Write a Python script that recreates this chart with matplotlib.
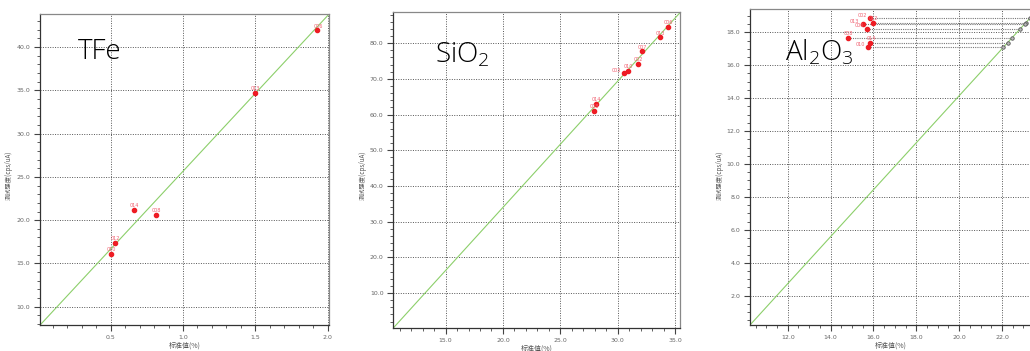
import numpy as np
import matplotlib.pyplot as plt
from matplotlib.ticker import MultipleLocator, FormatStrFormatter

plt.rcParams['mathtext.fontset'] = 'custom'
plt.rcParams['mathtext.rm'] = 'Open Sans:light'

# TFe
tfe_std = [1.93, 1.50, 0.66, 0.81, 0.53, 0.50]
tfe_int = [41.9, 34.7, 21.2, 20.6, 17.4, 16.1]
tfe_ids = ["006", "013", "014", "008", "012", "010"]
tfe_fit = [17.95, 7.7]          # slope, intercept

# SiO2
sio2_std = [34.36, 33.64, 32.08, 31.73, 30.87, 30.57, 28.08, 27.88]
sio2_int = [84.6, 81.6, 77.7, 74.1, 72.3, 71.6, 62.9, 61.0]
sio2_ids = ["006", "013", "007", "002", "010", "003", "014", "008"]
sio2_fit = [3.54, -36.8]

# Al2O3
al_std = [15.86, 15.97, 15.49, 15.71, 14.82, 15.86, 15.75]
al_int = [18.85, 18.58, 18.50, 18.22, 17.64, 17.37, 17.09]
al_ids = ["002", "012", "013", "006", "008", "014", "010"]
al_fit = [1.427, -14.39]

xlabel = "标准值(%)"
ylabel = "测试强度(cps/uA)"
cjk = ['Noto Sans CJK SC', 'DejaVu Sans']
grey = '#555555'


def panel(rect, std, inten, ids, fit, xlim, ylim, xmaj, xmin, ymaj, ymin,
          title, title_pos, ylab_x, grey_pts=False):
    ax = fig.add_axes(rect)
    ax.set_xlim(*xlim)
    ax.set_ylim(*ylim)
    xs = np.array(xlim)
    ax.plot(xs, fit[0] * xs + fit[1], color='#8ccf6a', lw=0.8, zorder=2)

    std = np.array(std)
    inten = np.array(inten)
    if grey_pts:
        xg = (inten - fit[1]) / fit[0]
        for x0, x1, y in zip(std, xg, inten):
            ax.plot([x0, x1], [y, y], color='#777777', lw=0.8,
                    ls=(0, (1, 1)), zorder=2)
        ax.plot(xg, inten, 'o', ms=2.5, mfc='#bbbbbb', mec='#555555',
                mew=0.6, zorder=3)

    ax.plot(std, inten, 'o', ms=3, color='#ee1c24', zorder=4)
    # labels: put left of the point when a neighbour sits just to the right
    for i, (x, y, s) in enumerate(zip(std, inten, ids)):
        crowded = any(0 < std[j] - x < 0.02 * (xlim[1] - xlim[0]) and
                      abs(inten[j] - y) < 0.02 * (ylim[1] - ylim[0])
                      for j in range(len(std)))
        off = (-9, 1) if crowded else (-3, 2)
        ax.annotate(s, (x, y), xytext=off, textcoords='offset points',
                    fontsize=3.5, color='#f06070', zorder=5)

    ax.xaxis.set_major_locator(MultipleLocator(xmaj))
    ax.xaxis.set_minor_locator(MultipleLocator(xmin))
    ax.yaxis.set_major_locator(MultipleLocator(ymaj))
    ax.yaxis.set_minor_locator(MultipleLocator(ymin))
    ax.xaxis.set_major_formatter(FormatStrFormatter('%.1f'))
    ax.yaxis.set_major_formatter(FormatStrFormatter('%.1f'))
    ax.tick_params(which='major', length=4, width=0.8, color='#444444',
                   labelsize=4.5, labelcolor='#666666', pad=3)
    ax.tick_params(which='minor', length=2, width=0.6, color='#444444')
    ax.grid(True, which='major', color=grey, lw=0.7, ls=(0, (1, 1.5)))
    for sp in ax.spines.values():
        sp.set_color('#888888')
        sp.set_linewidth(0.9)
    ax.spines['left'].set_color('#333333')
    ax.spines['bottom'].set_color('#333333')

    ax.set_xlabel(xlabel, family=cjk, fontsize=5, color='#555555', labelpad=1)
    ax.text(ylab_x, 0.5, ylabel, family=cjk, fontsize=4.5, color='#555555',
            rotation=90, ha='center', va='center', transform=fig.transFigure)
    fig.text(title_pos[0], title_pos[1], title, family='Open Sans',
             weight='light', fontsize=20, color='black', ha='left',
             va='center')
    return ax


fig = plt.figure(figsize=(10.30, 3.51), dpi=100)

panel([0.0388, 0.0741, 0.2806, 0.886], tfe_std, tfe_int, tfe_ids, tfe_fit,
      (0.01, 2.01), (7.9, 43.8), 0.5, 0.1, 5.0, 1.0,
      "TFe", (0.076, 0.852), 0.008)
panel([0.3818, 0.0655, 0.2783, 0.900], sio2_std, sio2_int, sio2_ids, sio2_fit,
      (10.45, 35.4), (0.2, 88.7), 5.0, 1.0, 10.0, 2.0,
      "SiO$_\\mathrm{2}$", (0.422, 0.845), 0.352)
panel([0.7282, 0.0741, 0.2738, 0.8994], al_std, al_int, al_ids, al_fit,
      (10.24, 23.40), (0.22, 19.4), 2.0, 0.5, 2.0, 0.5,
      "Al$_\\mathrm{2}$O$_\\mathrm{3}$", (0.762, 0.852), 0.699, grey_pts=True)

fig.savefig("out.png", dpi=100)
